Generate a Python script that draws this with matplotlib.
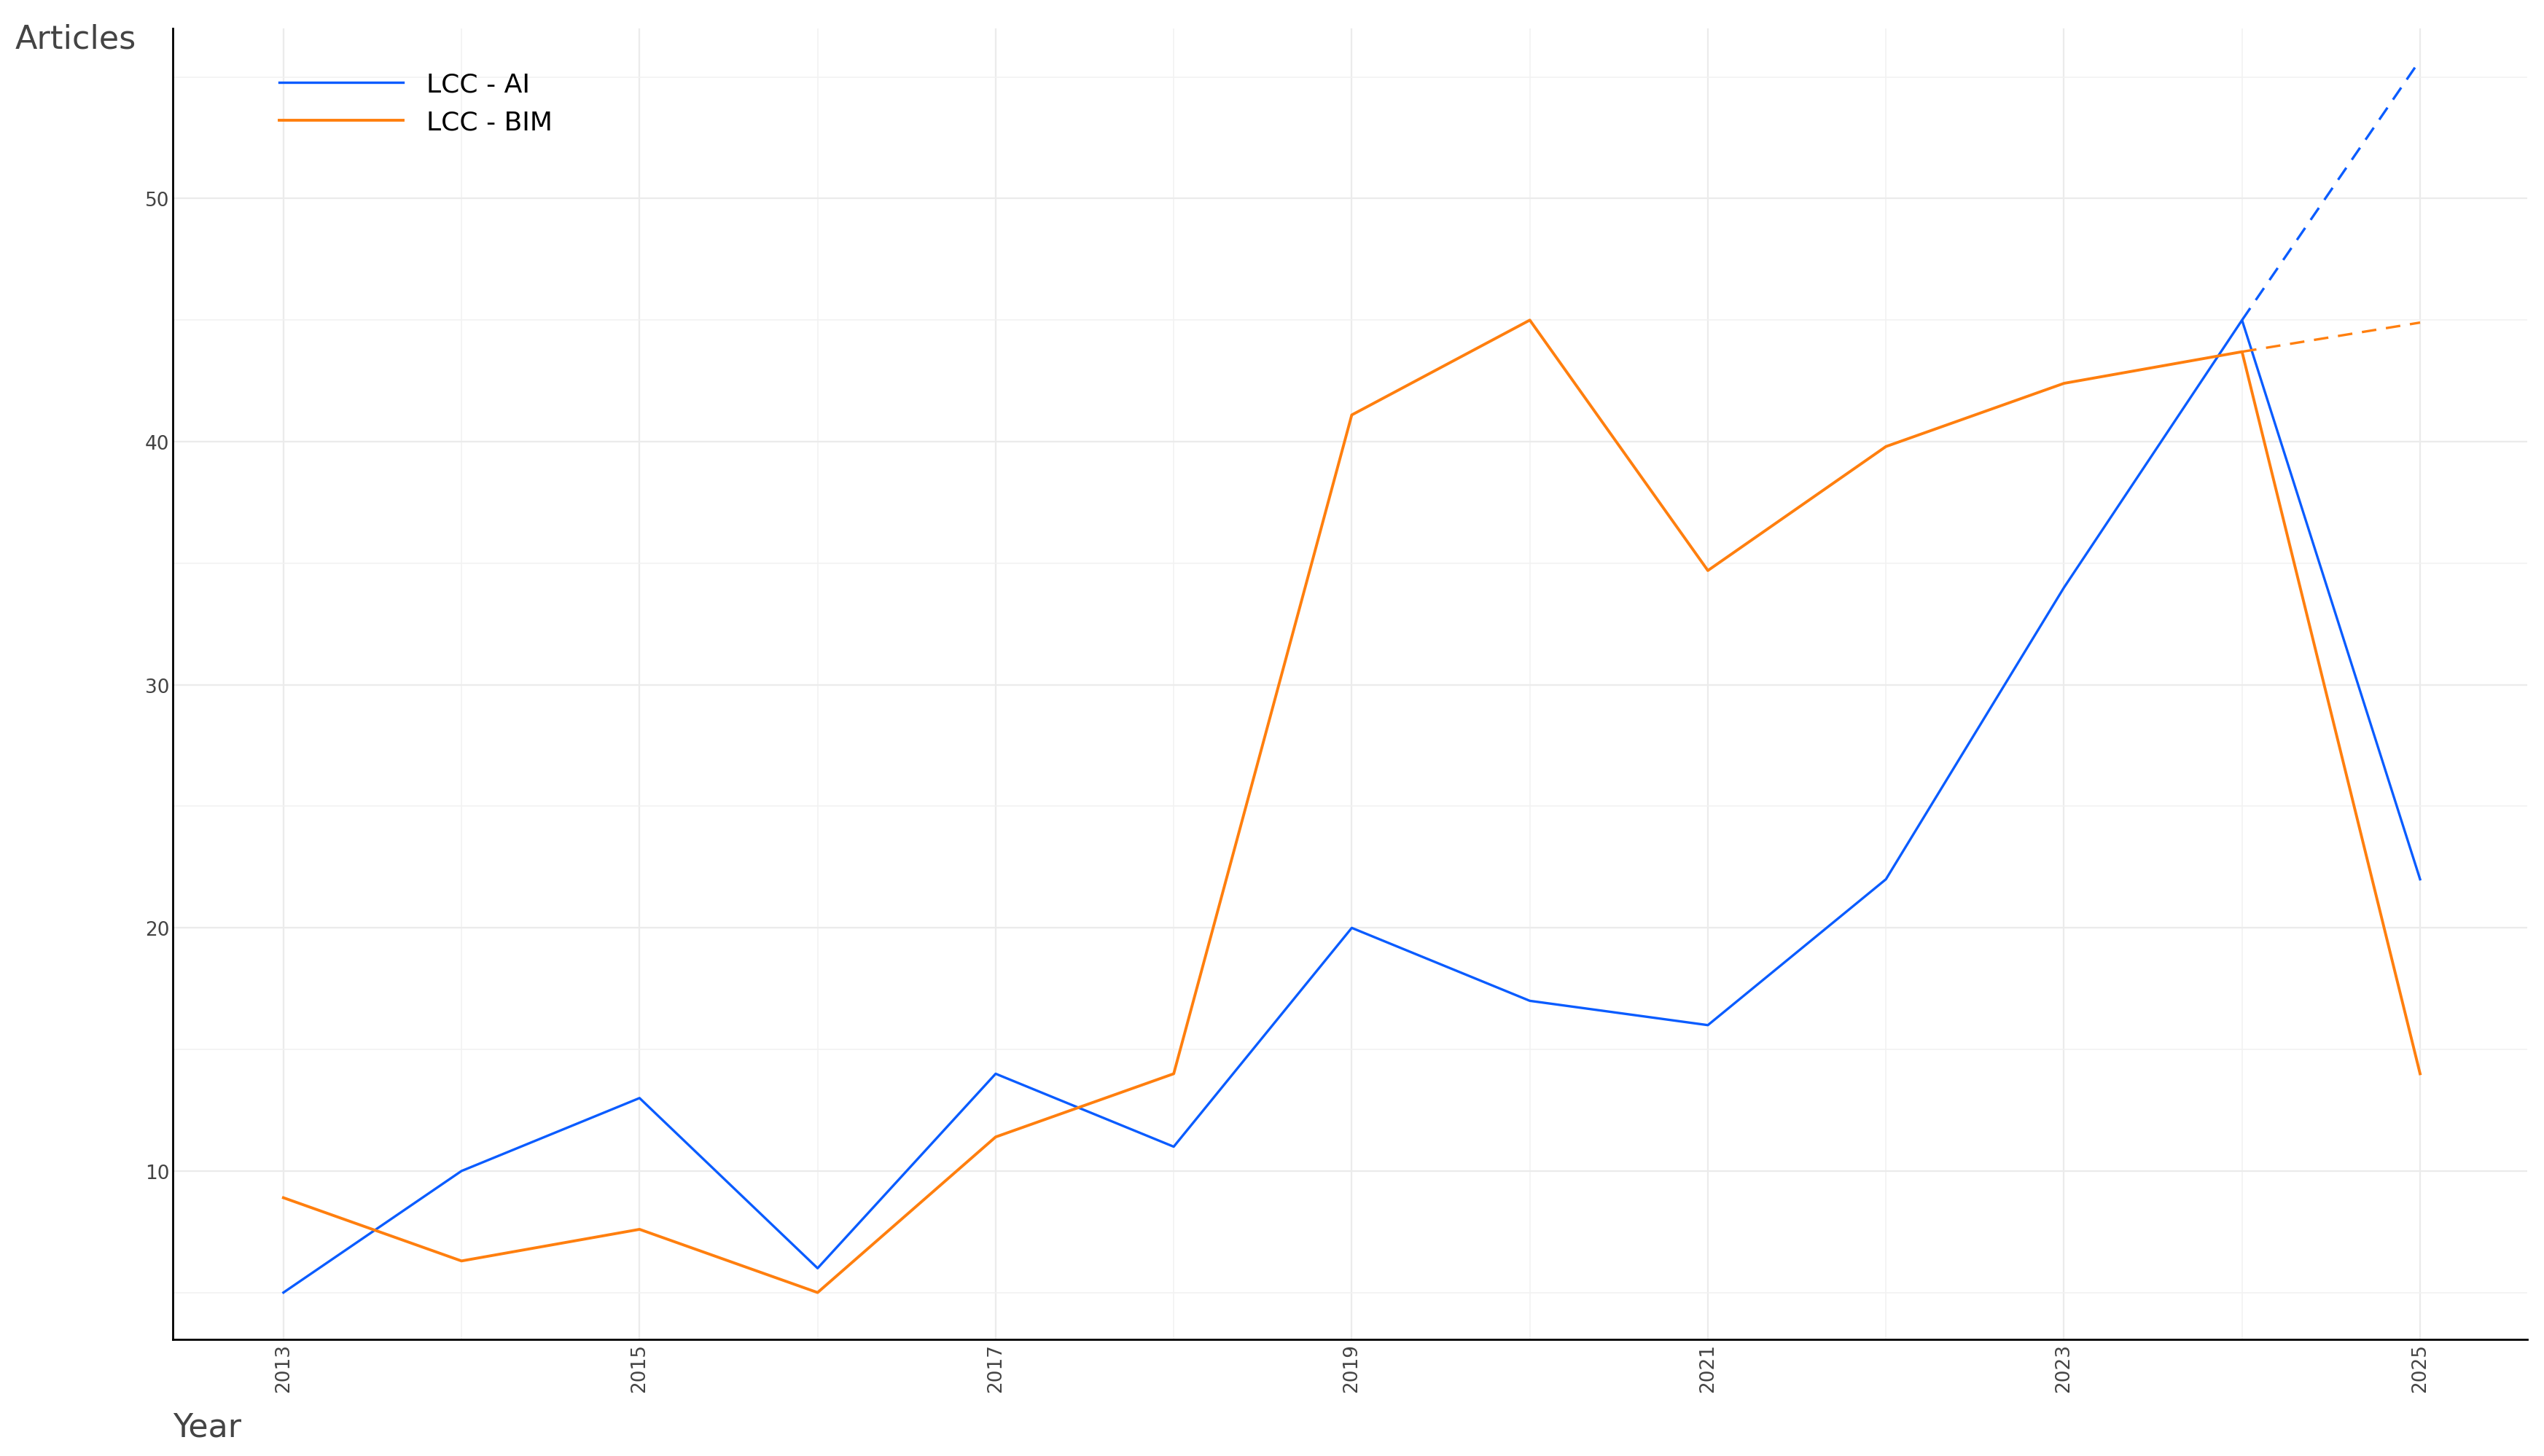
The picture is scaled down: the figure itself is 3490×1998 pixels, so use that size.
import matplotlib.pyplot as plt
import numpy as np

years = np.arange(2013, 2026)
ai = [5, 10, 13, 6, 14, 11, 20, 17, 16, 22, 34, 45, 22]
bim = [8.9, 6.3, 7.6, 5, 11.4, 14, 41.1, 45, 34.7, 39.8, 42.4, 43.7, 14]
proj_years = [2024, 2025]
ai_proj = [45, 55.7]
bim_proj = [43.7, 44.9]

blue = "#0a5cff"
orange = "#ff7f0e"

fig = plt.figure(figsize=(34.91, 19.99), dpi=100)
ax = fig.add_axes([0.068, 0.08, 0.925, 0.90])

ax.plot(years, ai, color=blue, lw=2.4, label="LCC - AI")
ax.plot(years, bim, color=orange, lw=2.8, label="LCC - BIM")
ax.plot(proj_years, ai_proj, color=blue, lw=2.4, ls=(0, (6, 4)))
ax.plot(proj_years, bim_proj, color=orange, lw=2.4, ls=(0, (6, 4)))

ax.set_xlim(2012.38, 2025.6)
ax.set_ylim(3.07, 57)
ax.set_xticks(years[::2])
ax.set_xticks(years, minor=True)
ax.set_yticks([10, 20, 30, 40, 50])
ax.set_yticks([5, 15, 25, 35, 45, 55], minor=True)
ax.tick_params(axis="x", labelrotation=90, length=0, labelsize=19, colors="#444444", which="both")
ax.tick_params(axis="y", length=0, labelsize=19, colors="#444444", which="both")
ax.grid(True, which="major", color="#ebebeb", lw=1.6)
ax.grid(True, which="minor", color="#f2f2f2", lw=1.2)
ax.set_axisbelow(True)
for s in ["top", "right"]:
    ax.spines[s].set_visible(False)
for s in ["left", "bottom"]:
    ax.spines[s].set_linewidth(2)

fig.text(0.006, 0.973, "Articles", fontsize=32, color="#444444", va="center")
fig.text(0.068, 0.02, "Year", fontsize=32, color="#444444", va="center")

ax.legend(loc="upper left", bbox_to_anchor=(0.035, 0.985), frameon=False,
          fontsize=26, handlelength=4.7, handletextpad=0.9, labelspacing=0.5)

fig.savefig("out.png", dpi=100)
